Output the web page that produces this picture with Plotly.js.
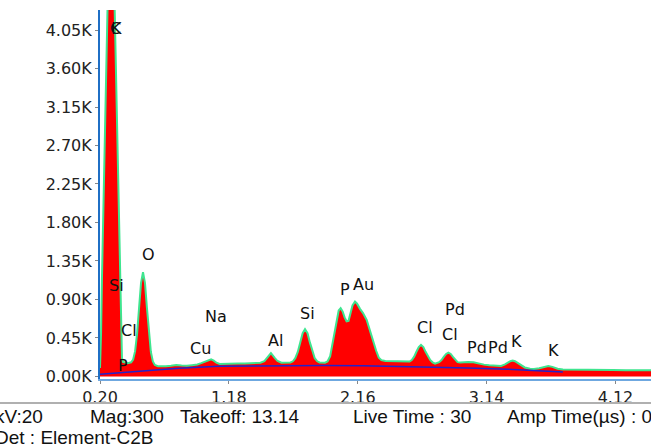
<!DOCTYPE html>
<html>
<head>
<meta charset="utf-8">
<script src="https://cdn.plot.ly/plotly-3.0.1.min.js"></script>
<style>html,body{margin:0;padding:0;background:#fff;}#chart{width:651px;height:447px;}</style>
</head>
<body>
<div id="chart"></div>
<script>
// Spectrum energies (keV) and counts
const energy = [
0.200,0.208,0.215,0.223,0.231,0.246,0.261,0.276,0.284,0.291,0.307,0.322,0.337,0.352,0.360,0.367,0.375,
0.390,0.410,0.437,0.452,0.467,0.482,0.497,0.512,0.527,0.542,0.557,0.572,0.587,0.602,0.617,0.640,
0.660,0.700,0.740,0.780,0.820,0.860,0.900,0.940,0.970,1.000,1.025,1.045,1.065,1.085,1.110,1.150,1.200,1.250,1.300,1.350,1.400,
1.420,1.450,1.470,1.500,1.530,1.550,1.580,1.610,
1.648,1.667,1.685,1.704,1.722,1.741,1.759,1.778,1.796,1.815,1.833,1.852,1.870,1.911,
1.930,1.950,1.975,2.000,2.015,2.030,2.045,2.060,2.075,2.090,2.105,2.120,2.139,2.155,2.177,2.200,2.228,2.253,2.278,2.300,2.320,2.340,2.370,2.400,2.450,2.500,
2.554,2.571,2.589,2.606,2.624,2.641,2.659,2.676,2.694,2.711,2.729,2.748,
2.779,2.797,2.814,2.832,2.849,2.867,2.884,2.902,2.919,2.940,2.970,3.000,3.040,3.080,3.120,3.160,3.190,
3.220,3.250,3.280,3.300,3.320,3.338,3.356,3.376,3.400,3.430,3.470,3.500,3.540,3.570,3.609,3.640,3.680,3.720,3.800,3.900,4.000,4.100,4.200,4.300,4.390];
const counts = [
100,500,1150,1730,2300,3450,4600,5750,6300,5800,4650,3480,2330,1170,600,220,170,
160,155,165,197,295,498,800,1094,1220,1094,800,498,285,175,135,120,
118,120,125,135,128,125,132,140,155,175,195,200,185,160,145,148,150,152,150,153,155,
160,178,215,272,215,180,160,158,
164,177,213,287,398,506,552,506,398,287,213,177,164,161,
175,235,430,660,770,797,760,690,645,650,730,830,875,850,790,740,660,530,420,300,220,190,180,178,175,172,
174,192,231,288,344,368,344,288,231,192,165,150,
167,192,228,263,278,263,228,192,167,162,168,170,165,150,138,130,126,
122,122,140,160,178,186,178,158,130,105,90,88,95,110,122,112,90,80,77,76,75,74,73,72,72];

// Background (continuum) line
const bgEnergy = [0.20,0.50,0.80,1.10,1.50,1.90,2.20,2.60,3.00,3.30,3.60,3.72];
const bgCounts = [25,60,95,120,128,128,125,115,100,85,62,52];

// Axis ticks
const xTickVals = [0.20,1.18,2.16,3.14,4.12];
const xTickText = ["0.20","1.18","2.16","3.14","4.12"];
const yTickVals = [0,450,900,1350,1800,2250,2700,3150,3600,4050];
const yTickText = ["0.00K","0.45K","0.90K","1.35K","1.80K","2.25K","2.70K","3.15K","3.60K","4.05K"];

// Peak labels
const labelText = ["C","K","Si","Cl","P","O","Cu","Na","Al","Si","P","Au","Cl","Pd","Cl","Pd","Pd","K","K"];
const labelX = [0.318,0.322,0.327,0.423,0.373,0.567,0.968,1.082,1.531,1.776,2.063,2.200,2.671,2.900,2.862,3.065,3.227,3.369,3.645];
const labelY = [4062,4062,1058,532,123,1420,330,699,415,739,1011,1070,567,777,485,333,333,407,302];

// Footer text
const footerText = ["kV:20","Mag:300","Takeoff: 13.14","Live Time : 30","Amp Time(µs) : 0.5","Det : Element-C2B"];

const traces = [
  {x: energy, y: counts, type: "scatter", mode: "lines", fill: "tozeroy",
   fillcolor: "#ff0000", line: {color: "#3ee58f", width: 2}, hoverinfo: "skip"},
  {x: bgEnergy, y: bgCounts, type: "scatter", mode: "lines",
   line: {color: "#2222cc", width: 1.5}, hoverinfo: "skip"}
];

const annotations = labelText.map((t, i) => ({
  x: labelX[i], y: labelY[i], xref: "x", yref: "y", text: t, showarrow: false,
  font: {family: "DejaVu Sans", size: 16, color: "#111"}, xanchor: "center", yanchor: "middle"
}));

// footer positions in paper coordinates (plot spans px 100..651 horizontally, 10..379 vertically)
const fx = p => (p - 100) / 551;
const fy = p => (379 - p) / 369;
const footerPx = [[-7,417],[88,417],[178,417],[351,417],[505,417],[-7,437]];
footerText.forEach((t, i) => {
  annotations.push({x: fx(footerPx[i][0]), y: fy(footerPx[i][1]), xref: "paper", yref: "paper",
    text: t, showarrow: false, xanchor: "left", yanchor: "middle",
    font: {family: "Liberation Sans, Arial", size: 19, color: "#111"}});
});

const layout = {
  width: 651, height: 447,
  margin: {l: 100, r: 0, t: 10, b: 68, pad: 0},
  paper_bgcolor: "#ffffff", plot_bgcolor: "#ffffff",
  showlegend: false,
  font: {family: "DejaVu Sans", size: 15, color: "#222"},
  xaxis: {range: [0.20, 4.39], tickvals: xTickVals, ticktext: xTickText,
    showgrid: false, zeroline: false, showline: true, linecolor: "#6fa8e0", linewidth: 2,
    ticks: "outside", ticklen: 3, tickcolor: "#888", tickfont: {family: "DejaVu Sans", size: 16, color: "#222"}},
  yaxis: {range: [-30, 4284], tickvals: yTickVals, ticktext: yTickText,
    showgrid: false, zeroline: false, showline: true, linecolor: "#1f6fc5", linewidth: 2,
    ticks: "outside", ticklen: 3, tickcolor: "#888", tickfont: {family: "DejaVu Sans", size: 16, color: "#222"}},
  annotations: annotations,
  shapes: [{type: "line", xref: "paper", yref: "paper", x0: fx(0), x1: fx(651), y0: fy(403), y1: fy(403),
    line: {color: "#b0b0b0", width: 2}}]
};

Plotly.newPlot("chart", traces, layout, {displayModeBar: false, staticPlot: true});
</script>
</body>
</html>
